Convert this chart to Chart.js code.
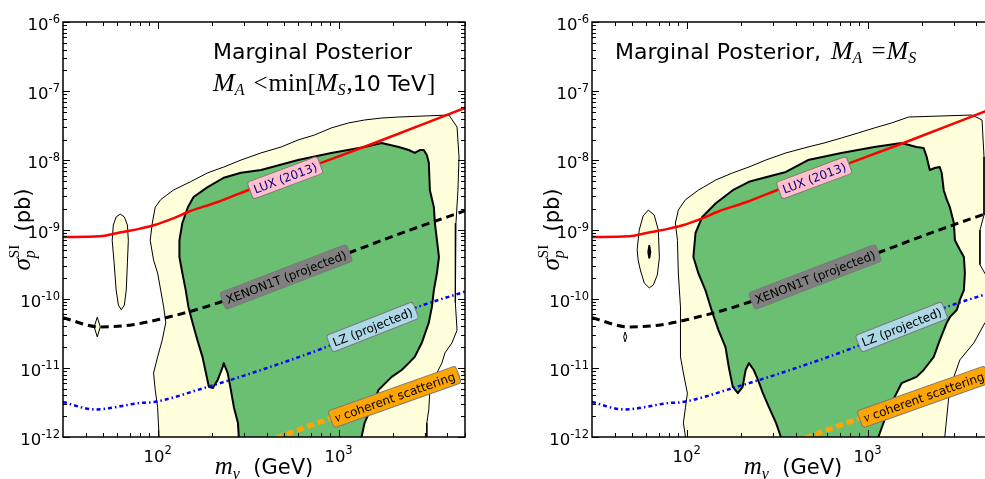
<!DOCTYPE html>
<html lang="en">
<head>
<meta charset="UTF-8">
<title>Marginal posterior: sigma_p^SI vs m_nu</title>
<script src="https://cdn.jsdelivr.net/npm/chart.js"></script>
<style>
  html, body { margin: 0; padding: 0; background: #fff; overflow: hidden; }
  body { width: 985px; height: 479px; position: relative; }
  canvas { position: absolute; top: 0; }
  #left { left: 0; }
  #right { left: 529px; }
</style>
</head>
<body>
<canvas id="left" width="529" height="479"></canvas>
<canvas id="right" width="529" height="479"></canvas>
<script>
// ---- data: [m_nu (GeV), sigma_p^SI (pb)] ----
// left panel, M_A < min[M_S, 10 TeV]
const leftOuter = [
  [102, 8e-13], [102, 1e-12], [101, 1.6e-12], [100, 2.7e-12], [97, 4.8e-12], [95, 8.4e-12],
  [100, 1.44e-11], [106, 2.5e-11], [111, 4.5e-11], [108, 7.6e-11], [104, 1.33e-10], [100, 2.35e-10],
  [95, 3.6e-10], [91, 7.0e-10], [93.5, 1.24e-9], [97, 2.1e-9], [104, 2.7e-9], [122, 3.7e-9],
  [152, 4.9e-9], [189, 6.6e-9], [232, 8.0e-9], [289, 1.01e-8], [373, 1.28e-8], [482, 1.56e-8],
  [598, 1.97e-8], [735, 2.32e-8], [912, 2.94e-8], [1135, 3.47e-8], [1393, 3.83e-8], [1730, 4.09e-8],
  [2153, 4.23e-8], [4074, 4.52e-8], [4519, 3.03e-8], [4634, 1.12e-8], [4571, 3.7e-9], [4458, 1.24e-9],
  [4404, 4.0e-10], [4458, 2.06e-10], [4404, 8.7e-11], [4519, 3.5e-11], [4236, 2.3e-11], [3873, 1.64e-11],
  [3724, 1.17e-11], [3409, 7.4e-12], [3199, 4.8e-12], [3155, 2.5e-12], [3076, 1.6e-12], [3076, 8e-13]
];
const leftInner = [
  [281, 8e-13], [281, 1e-12], [278, 1.6e-12], [264, 2.7e-12], [254, 4.8e-12], [244, 8.4e-12],
  [232, 1.17e-11], [229, 1.03e-11], [215, 6.7e-12], [202, 5.1e-12], [192, 5.3e-12], [185, 8.4e-12],
  [177, 1.44e-11], [166, 2.5e-11], [156, 4.5e-11], [148, 7.6e-11], [143, 1.33e-10], [137, 2.35e-10],
  [132, 4.0e-10], [132, 7.0e-10], [137, 1.24e-9], [147, 2.1e-9], [158, 2.95e-9], [189, 4.1e-9],
  [232, 5.6e-9], [289, 6.6e-9], [373, 7.25e-9], [598, 1.01e-8], [912, 1.28e-8], [1393, 1.56e-8],
  [1730, 1.78e-8], [2153, 1.56e-8], [2443, 1.41e-8], [2637, 1.28e-8], [2812, 1.41e-8], [2958, 1.41e-8],
  [3076, 1.19e-8], [3155, 9.2e-9], [3199, 3.7e-9], [3365, 2.1e-9], [3409, 1.24e-9], [3499, 7.0e-10],
  [3589, 4.0e-10], [3499, 2.35e-10], [3365, 1.33e-10], [3281, 7.6e-11], [3155, 4.5e-11], [2886, 2.3e-11],
  [2637, 1.44e-11], [2443, 1.17e-11], [2234, 9.3e-12], [1967, 7.4e-12], [1665, 4.8e-12], [1524, 2.7e-12],
  [1393, 1.6e-12], [1340, 1e-12], [1340, 8e-13]
];
const leftIsland = [
  [56.1, 7.0e-10], [56.9, 1.16e-9], [59, 1.52e-9], [62.2, 1.67e-9], [65.5, 1.52e-9], [68.1, 1.16e-9],
  [68.9, 7.0e-10], [68.1, 3.3e-10], [67.1, 1.33e-10], [65.5, 8.1e-11], [63, 6.9e-11], [60.7, 8.1e-11],
  [59, 1.33e-10], [57.5, 3.3e-10], [56.1, 7.0e-10]
];
const leftSpeck = [[46.4, 5.4e-11], [48.2, 3.9e-11], [46.4, 2.8e-11], [44.6, 3.9e-11], [46.4, 5.4e-11]];
const leftBlob = [[296, 1e-12], [300, 1.18e-12], [308, 1.24e-12], [316, 1.18e-12], [320, 1e-12], [308, 9e-13], [296, 1e-12]];

// right panel, M_A = M_S
const rightOuter = [
  [98.6, 8e-13], [98.6, 1e-12], [96, 1.6e-12], [98.6, 2.7e-12], [101, 4.3e-12], [96, 8.4e-12],
  [92.5, 1.44e-11], [92.5, 2.5e-11], [92.5, 7.6e-11], [90, 2.35e-10], [89, 7.0e-10], [86.7, 1.24e-9],
  [90, 1.91e-9], [98.6, 2.7e-9], [116, 3.7e-9], [145, 5.2e-9], [180, 6.6e-9], [221, 8.0e-9],
  [274, 1.01e-8], [354, 1.28e-8], [469, 1.56e-8], [575, 1.78e-8], [716, 2.1e-8], [889, 2.49e-8],
  [1091, 2.94e-8], [1358, 3.47e-8], [1687, 4.23e-8], [3776, 4.52e-8], [4295, 3.83e-8], [4404, 1.12e-8],
  [4404, 3.7e-9], [4404, 1.62e-9], [4181, 9.8e-10], [4181, 3.1e-10], [4571, 2.06e-10], [5200, 1.33e-10],
  [5200, 5.8e-11], [4458, 4.5e-11], [3873, 2.3e-11], [3238, 1.3e-11], [3000, 7.4e-12], [2812, 3.8e-12],
  [2742, 1.95e-12], [2673, 1e-12], [2673, 8e-13]
];
const rightInner = [
  [332, 8e-13], [332, 1e-12], [312, 1.6e-12], [285, 2.7e-12], [264, 4.3e-12], [248, 6.7e-12],
  [235, 9.3e-12], [221, 1.17e-11], [212, 9.3e-12], [204, 5.3e-12], [192, 4.3e-12], [180, 5.3e-12],
  [171, 1.03e-11], [164, 2.0e-11], [150, 3.5e-11], [139, 6.2e-11], [127, 1.33e-10], [116, 2.35e-10],
  [109, 4.0e-10], [112, 8.9e-10], [122, 1.52e-9], [145, 2.4e-9], [180, 3.7e-9], [221, 4.9e-9],
  [274, 5.7e-9], [354, 6.8e-9], [469, 1.01e-8], [716, 1.28e-8], [1091, 1.56e-8], [1542, 1.78e-8],
  [1866, 1.56e-8], [2042, 1.51e-8], [2123, 1.12e-8], [2208, 7.25e-9], [2350, 7.75e-9], [2506, 8.0e-9],
  [2570, 6.6e-9], [2637, 3.7e-9], [2742, 2.7e-9], [2851, 2.1e-9], [3000, 1.24e-9], [3041, 7.0e-10],
  [3238, 5.1e-10], [3409, 4.0e-10], [3452, 2.35e-10], [3409, 1.33e-10], [3238, 9.6e-11], [3119, 6.9e-11],
  [2851, 5.4e-11], [2742, 4.5e-11], [2506, 2.5e-11], [2323, 1.44e-11], [2042, 9.3e-12], [1866, 7.4e-12],
  [1542, 6.0e-12], [1358, 3.1e-12], [1241, 1.76e-12], [1148, 1e-12], [1148, 8e-13]
];
const rightIsland = [
  [53.3, 5.1e-10], [54.7, 9.8e-10], [57.5, 1.57e-9], [61.4, 1.91e-9], [66.2, 1.62e-9], [69.8, 9.8e-10],
  [70.7, 3.9e-10], [68.9, 2.2e-10], [65.5, 1.58e-10], [62.2, 1.43e-10], [58.3, 1.69e-10], [55.5, 2.6e-10],
  [54, 3.6e-10], [53.3, 5.1e-10]
];
const rightCore = [[61.4, 4.7e-10], [62.2, 5.8e-10], [63, 4.7e-10], [62.2, 3.9e-10], [61.4, 4.7e-10]];
const rightSpeck = [[44.9, 2.8e-11], [45.7, 3.3e-11], [46.7, 2.8e-11], [45.7, 2.37e-11], [44.9, 2.8e-11]];

// limit curves (same in both panels)
const luxMass = [30, 48, 60, 80, 95, 122, 152, 215, 328, 1580, 5130];
const luxSigma = [7.8e-10, 8.0e-10, 8.9e-10, 1.03e-9, 1.15e-9, 1.45e-9, 1.85e-9, 2.5e-9, 3.85e-9, 1.78e-8, 5.9e-8];
const xenonMass = [30, 48, 73, 111, 147, 223, 1135, 2477, 5130];
const xenonSigma = [5.3e-11, 3.9e-11, 4.2e-11, 5.3e-11, 6.4e-11, 8.95e-11, 4.57e-10, 9.8e-10, 1.91e-9];
const lzMass = [30, 45, 80, 95, 189, 373, 912, 2637, 5130];
const lzSigma = [3.2e-12, 2.5e-12, 3.1e-12, 3.2e-12, 5.3e-12, 9.3e-12, 2.14e-11, 7.3e-11, 1.29e-10];
const nuMass = [397, 912, 5000];
const nuSigma = [8.5e-13, 1.88e-12, 8.4e-12];

// inline curve labels
const tagText = ['LUX (2013)', 'XENON1T (projected)', 'LZ (projected)', 'ν coherent scattering'];
const tagMass = [507, 513, 1542, 2042];
const tagSigma = [5.6e-9, 2.06e-10, 3.9e-11, 3.8e-12];

// axis ticks
const xTickExp = [2, 3];
const yTickExp = [-12, -11, -10, -9, -8, -7, -6];

// ---- styles ----
const SANS = "'DejaVu Sans', 'Noto Sans', sans-serif";
const SERIF = "'Liberation Serif', 'DejaVu Serif', serif";
const font = (size, fam, style) => (style ? style + ' ' : '') + size + 'px ' + fam;
const tagStyle = [
  { bg: '#ffc0cb', fg: '#00008b', angle: -20.5 },
  { bg: '#808080', fg: '#000000', angle: -21 },
  { bg: '#add8e6', fg: '#000000', angle: -21.5 },
  { bg: '#ffa500', fg: '#000000', angle: -19.5 }
];
const YELLOW = '#ffffdc';
const GREEN = '#6bbf73';

function richWidth(ctx, parts) {
  let w = 0;
  for (const p of parts) {
    ctx.font = p.font;
    w += (p.pre || 0) + (p.keep ? 0 : ctx.measureText(p.t).width);
  }
  return w;
}
function drawRich(ctx, x, y, parts) {
  let cx = x;
  for (const p of parts) {
    ctx.font = p.font;
    cx += p.pre || 0;
    ctx.fillText(p.t, cx, y + (p.dy || 0));
    if (!p.keep) cx += ctx.measureText(p.t).width;
  }
}

function drawTag(ctx, x, y, i) {
  const st = tagStyle[i];
  const text = tagText[i];
  let parts;
  if (text.startsWith('ν')) {
    parts = [{ t: 'ν', font: font(13, SERIF, 'italic') }, { t: text.slice(1), font: font(12, SANS) }];
  } else {
    parts = [{ t: text, font: font(12, SANS) }];
  }
  ctx.save();
  ctx.translate(x, y);
  ctx.rotate(st.angle * Math.PI / 180);
  const w = richWidth(ctx, parts) + 8, h = 18;
  ctx.beginPath();
  ctx.roundRect(-w / 2, -h / 2, w, h, 3);
  ctx.fillStyle = st.bg;
  ctx.fill();
  ctx.strokeStyle = '#7a7a7a';
  ctx.lineWidth = 1;
  ctx.stroke();
  ctx.fillStyle = st.fg;
  ctx.textBaseline = 'alphabetic';
  drawRich(ctx, -w / 2 + 4, 4.5, parts);
  ctx.restore();
}

const decor = {
  id: 'decor',
  afterDatasetsDraw(chart, args, opts) {
    const ctx = chart.ctx;
    const xs = chart.scales.x, ys = chart.scales.y;
    const a = chart.chartArea;

    // curve labels, clipped to plot area
    ctx.save();
    ctx.beginPath();
    ctx.rect(a.left, a.top, a.right - a.left, a.bottom - a.top);
    ctx.clip();
    tagText.forEach((t, i) => {
      drawTag(ctx, xs.getPixelForValue(tagMass[i]), ys.getPixelForValue(tagSigma[i]), i);
    });
    ctx.restore();

    ctx.save();
    // inward ticks on all four sides
    ctx.strokeStyle = '#000';
    ctx.lineWidth = 1;
    ctx.beginPath();
    for (let e = 1; e <= 3; e++) {
      for (let k = 1; k <= 9; k++) {
        const v = k * Math.pow(10, e);
        if (v <= xs.min || v > xs.max) continue;
        const px = Math.round(xs.getPixelForValue(v)) + 0.5;
        const len = k === 1 ? 7 : 4;
        ctx.moveTo(px, a.bottom); ctx.lineTo(px, a.bottom - len);
        ctx.moveTo(px, a.top); ctx.lineTo(px, a.top + len);
      }
    }
    for (let e = -12; e <= -6; e++) {
      for (let k = 1; k <= 9; k++) {
        const v = k * Math.pow(10, e);
        if (v < ys.min * 0.999 || v > ys.max * 1.001) continue;
        const py = Math.round(ys.getPixelForValue(v)) + 0.5;
        const len = k === 1 ? 7 : 4;
        ctx.moveTo(a.left, py); ctx.lineTo(a.left + len, py);
        ctx.moveTo(a.right, py); ctx.lineTo(a.right - len, py);
      }
    }
    ctx.stroke();
    ctx.lineWidth = 1.5;
    ctx.strokeRect(a.left, a.top, a.right - a.left, a.bottom - a.top);

    // tick labels
    ctx.fillStyle = '#000';
    ctx.textAlign = 'left';
    ctx.textBaseline = 'alphabetic';
    for (const e of yTickExp) {
      const py = ys.getPixelForValue(Math.pow(10, e));
      const parts = [{ t: '10', font: font(16.5, SANS) }, { t: String(e), font: font(11.5, SANS), dy: -7 }];
      const w = richWidth(ctx, parts);
      drawRich(ctx, a.left - 3 - w, py + 8, parts);
    }
    for (const e of xTickExp) {
      const px = xs.getPixelForValue(Math.pow(10, e));
      const parts = [{ t: '10', font: font(16.5, SANS) }, { t: String(e), font: font(11.5, SANS), dy: -8 }];
      const w = richWidth(ctx, parts);
      drawRich(ctx, px - w / 2, a.bottom + 25, parts);
    }

    // axis titles
    const xl = [
      { t: 'm', font: font(25, SERIF, 'italic') },
      { t: 'ν', font: font(16, SERIF, 'italic'), dy: 5 },
      { t: '  (GeV)', font: font(21, SANS) }
    ];
    drawRich(ctx, (a.left + a.right) / 2 - richWidth(ctx, xl) / 2, a.bottom + 37, xl);

    const yl = [
      { t: 'σ', font: font(25, SERIF, 'italic') },
      { t: 'p', font: font(16, SERIF, 'italic'), dy: 5, keep: true },
      { t: 'SI', font: font(15, SERIF), dy: -11 },
      { t: '  (pb)', font: font(21, SANS) }
    ];
    ctx.save();
    ctx.translate(a.left - 33, (a.top + a.bottom) / 2);
    ctx.rotate(-Math.PI / 2);
    drawRich(ctx, -richWidth(ctx, yl) / 2, 0, yl);
    ctx.restore();

    // panel titles
    for (const line of opts.lines) {
      drawRich(ctx, a.left + line.x, a.top + line.y, line.parts);
    }
    ctx.restore();
  }
};

const pts = arr => arr.map(([x, y]) => ({ x, y }));
const zip = (ms, ss) => ms.map((m, i) => ({ x: m, y: ss[i] }));

function region(arr, color, width, order) {
  return {
    data: pts(arr), showLine: true, fill: 'shape', backgroundColor: color,
    borderColor: '#000', borderWidth: width, borderJoinStyle: 'round',
    pointRadius: 0, tension: 0, order, clip: 0
  };
}
function curve(ms, ss, color, width, dash, order) {
  return {
    data: zip(ms, ss), showLine: true, fill: false, borderColor: color,
    borderWidth: width, borderDash: dash, pointRadius: 0,
    cubicInterpolationMode: 'monotone', order, clip: 0
  };
}

function limitCurves() {
  return [
    curve(luxMass, luxSigma, '#ff0000', 2.5, [], 1),
    curve(xenonMass, xenonSigma, '#000000', 3, [8, 5], 2),
    curve(lzMass, lzSigma, '#0000ff', 2.5, [4, 3, 1.5, 3], 3),
    curve(nuMass, nuSigma, '#ffa500', 5, [7, 4], 4)
  ];
}

function makeChart(id, regions, lines) {
  return new Chart(document.getElementById(id), {
    type: 'scatter',
    data: { datasets: regions.concat(limitCurves()) },
    options: {
      responsive: false,
      animation: false,
      layout: { padding: { left: 63, right: 64, top: 22, bottom: 42 } },
      scales: {
        x: { type: 'logarithmic', min: 30, max: 5000, display: false },
        y: { type: 'logarithmic', min: 1e-12, max: 1e-6, display: false }
      },
      plugins: {
        legend: { display: false },
        tooltip: { enabled: false },
        filler: { drawTime: 'beforeDatasetDraw' },
        decor: { lines }
      }
    },
    plugins: [decor]
  });
}

makeChart('left', [
  region(leftOuter, YELLOW, 1, 10),
  region(leftIsland, YELLOW, 1, 10),
  region(leftSpeck, YELLOW, 1, 10),
  region(leftInner, GREEN, 2, 8),
  region(leftBlob, GREEN, 2, 8)
], [
  { x: 150, y: 37, parts: [{ t: 'Marginal Posterior', font: font(22, SANS) }] },
  { x: 150, y: 69, parts: [
    { t: 'M', font: font(26, SERIF, 'italic') },
    { t: 'A', font: font(16, SERIF, 'italic'), dy: 4 },
    { t: '<', font: font(25, SERIF), pre: 9 },
    { t: 'min[', font: font(25, SERIF), pre: 1 },
    { t: 'M', font: font(26, SERIF, 'italic') },
    { t: 'S', font: font(16, SERIF, 'italic'), dy: 4 },
    { t: ',', font: font(25, SERIF), pre: 1 },
    { t: '10 TeV', font: font(22, SANS) },
    { t: ']', font: font(25, SERIF), pre: 1 }
  ] }
]);

makeChart('right', [
  region(rightOuter, YELLOW, 1, 10),
  region(rightIsland, YELLOW, 1, 10),
  region(rightSpeck, YELLOW, 1, 10),
  region(rightInner, GREEN, 2, 8),
  region(rightCore, GREEN, 2, 8)
], [
  { x: 23, y: 37, parts: [
    { t: 'Marginal Posterior,', font: font(22, SANS) },
    { t: 'M', font: font(26, SERIF, 'italic'), pre: 10 },
    { t: 'A', font: font(16, SERIF, 'italic'), dy: 4 },
    { t: '=', font: font(25, SERIF), pre: 9 },
    { t: 'M', font: font(26, SERIF, 'italic'), pre: 1 },
    { t: 'S', font: font(16, SERIF, 'italic'), dy: 4 }
  ] }
]);
</script>
</body>
</html>
